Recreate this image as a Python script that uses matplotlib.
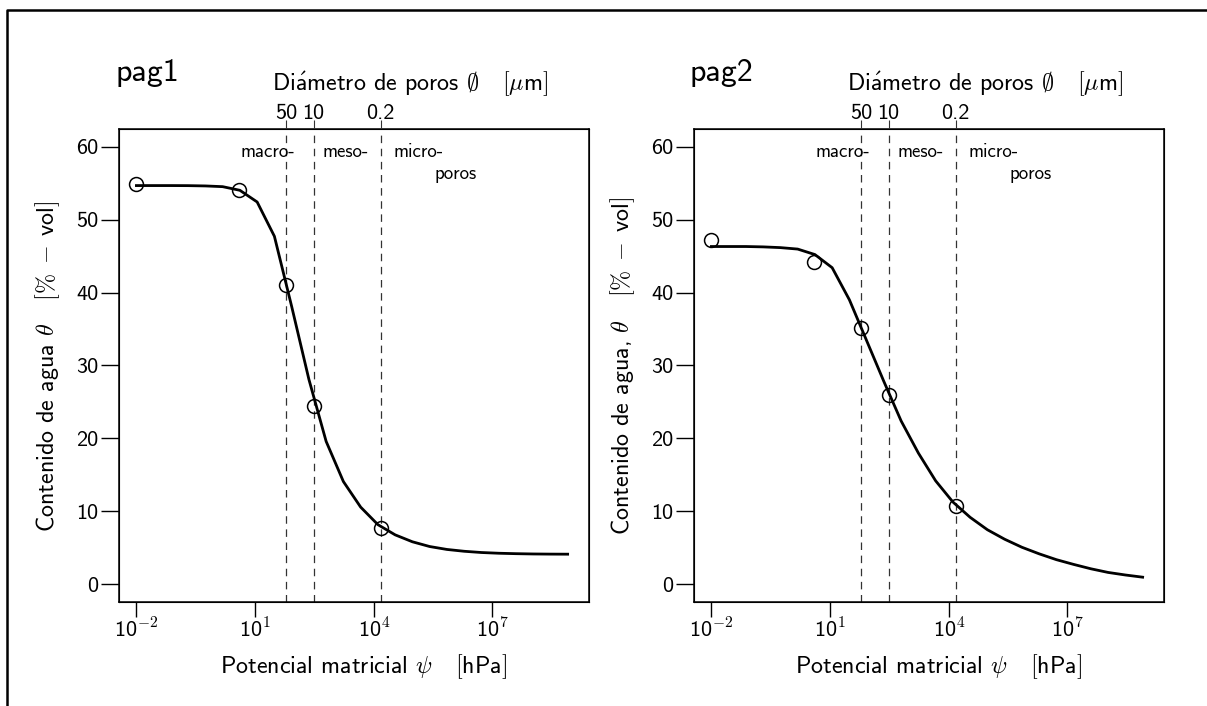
import numpy as np
import matplotlib
matplotlib.use("Agg")
import matplotlib.pyplot as plt
from matplotlib.lines import Line2D

plt.rcParams['font.family'] = ['cmss10', 'DejaVu Sans']
plt.rcParams['mathtext.fontset'] = 'cm'
plt.rcParams['axes.unicode_minus'] = False

# ---------------- data ----------------
# measured points (matric potential in hPa, water content in % vol)
psi_points = [0.01, 4, 60, 300, 15000]
theta_pag1 = [54.8, 54.0, 41.0, 24.4, 7.8]
theta_pag2 = [47.2, 44.2, 35.2, 26.0, 10.7]

# fitted retention curves (log10 of psi in hPa, water content)
log_psi_curve = [-2.0, -1.564, -1.128, -0.692, -0.256, 0.18, 0.616, 1.052, 1.488,
                 1.924, 2.36, 2.796, 3.232, 3.668, 4.104, 4.54, 4.976, 5.412,
                 5.848, 6.284, 6.72, 7.156, 7.592, 8.028, 8.464, 8.9]
curve_pag1 = [54.65, 54.65, 54.65, 54.64, 54.6, 54.5, 54.0, 52.4, 47.7,
              38.1, 28.1, 19.6, 14.1, 10.6, 8.2, 6.8, 5.85, 5.2,
              4.8, 4.55, 4.38, 4.28, 4.22, 4.18, 4.16, 4.15]
curve_pag2 = [46.3, 46.3, 46.3, 46.25, 46.15, 45.95, 45.2, 43.4, 39.0,
              33.4, 27.8, 22.4, 18.0, 14.2, 11.3, 9.2, 7.5, 6.2,
              5.1, 4.2, 3.4, 2.75, 2.15, 1.65, 1.3, 1.0]

# pore-size class limits
psi_limits = [60, 300, 15000]
diam_labels = ['50', '10', '0.2']

x_ticks = [1e-2, 1e1, 1e4, 1e7]
x_ticklabels = [r'10$^{\mathsf{-2}}$', r'10$^{\mathsf{1}}$', r'10$^{\mathsf{4}}$', r'10$^{\mathsf{7}}$']
y_ticks = [0, 10, 20, 30, 40, 50, 60]

panels = [
    dict(name='pag1', curve=curve_pag1, pts=theta_pag1,
         ylabel=r'Contenido de agua $\theta$   $[\%\;-\;$vol$]$'),
    dict(name='pag2', curve=curve_pag2, pts=theta_pag2,
         ylabel=r'Contenido de agua, $\theta$   $[\%\;-\;$vol$]$'),
]

# ---------------- layout ----------------
W, H = 1207, 706
fig = plt.figure(figsize=(W / 100, H / 100), dpi=100)

def fx(px):
    return px / W

def fy(py):
    return 1 - py / H

# outer frame (left and top edges visible)
fig.lines.append(Line2D([fx(7), fx(7), 1.01], [-0.01, fy(10), fy(10)],
                        transform=fig.transFigure, color='black', lw=1.8))

lefts = [119, 694]
box_w = 470
top, bottom = 129, 602
FS_TICK = 16
FS_LAB = 17.3

for left, p in zip(lefts, panels):
    ax = fig.add_axes([fx(left), fy(bottom), box_w / W, (bottom - top) / H])
    ax.set_xscale('log')
    ax.set_xlim(10 ** -2.44, 10 ** 9.44)
    ax.set_ylim(-2.4, 62.4)
    for s in ax.spines.values():
        s.set_linewidth(1.1)

    for h in psi_limits:
        ax.axvline(h, color='#333333', lw=0.9, dashes=(6, 4.5))

    ax.plot(10 ** np.array(log_psi_curve), p['curve'], color='black', lw=2.0, zorder=3)
    ax.plot(psi_points, p['pts'], ls='none', marker='o', ms=10, mfc='none',
            mec='black', mew=1.1, zorder=4)

    ax.set_xticks(x_ticks)
    ax.set_xticklabels(x_ticklabels, fontsize=FS_TICK)
    ax.xaxis.set_minor_locator(matplotlib.ticker.NullLocator())
    ax.tick_params(axis='x', direction='out', length=10.5, width=1.0, pad=1)
    ax.set_yticks(y_ticks)
    ax.set_yticklabels([str(v) for v in y_ticks], fontsize=FS_TICK)
    ax.tick_params(axis='y', direction='out', length=13, width=1.0, pad=2)

    # top axis: pore diameter
    ax2 = ax.twiny()
    ax2.set_xscale('log')
    ax2.set_xlim(ax.get_xlim())
    ax2.set_xticks(psi_limits)
    ax2.set_xticklabels(diam_labels, fontsize=FS_TICK)
    ax2.xaxis.set_minor_locator(matplotlib.ticker.NullLocator())
    ax2.tick_params(axis='x', direction='out', length=6.5, width=0.8, pad=-2.5, color='#333333')

    # pore class annotations
    ax.text(10 ** 1.33, 59.2, 'macro-', ha='center', va='center', fontsize=13.6)
    ax.text(10 ** 3.30, 59.2, 'meso-', ha='center', va='center', fontsize=13.6)
    ax.text(10 ** 5.12, 59.2, 'micro-', ha='center', va='center', fontsize=13.6)
    ax.text(10 ** 6.06, 56.3, 'poros', ha='center', va='center', fontsize=13.6)

    cx = left + box_w / 2
    fig.text(fx(left - 71), fy(366), p['ylabel'], rotation=90, ha='center', va='center', fontsize=FS_LAB)
    fig.text(fx(cx + 9), fy(667), r'Potencial matricial $\psi$   $[$hPa$]$',
             ha='center', va='center', fontsize=FS_LAB)
    fig.text(fx(cx + 56), fy(84), r'Di$\mathsf{\acute{a}}$metro de poros $\emptyset$   $[\mu$m$]$',
             ha='center', va='center', fontsize=FS_LAB)
    fig.text(fx(left - 4), fy(81), p['name'], ha='left', va='baseline', fontsize=23)

fig.savefig('out.png', dpi=100)
